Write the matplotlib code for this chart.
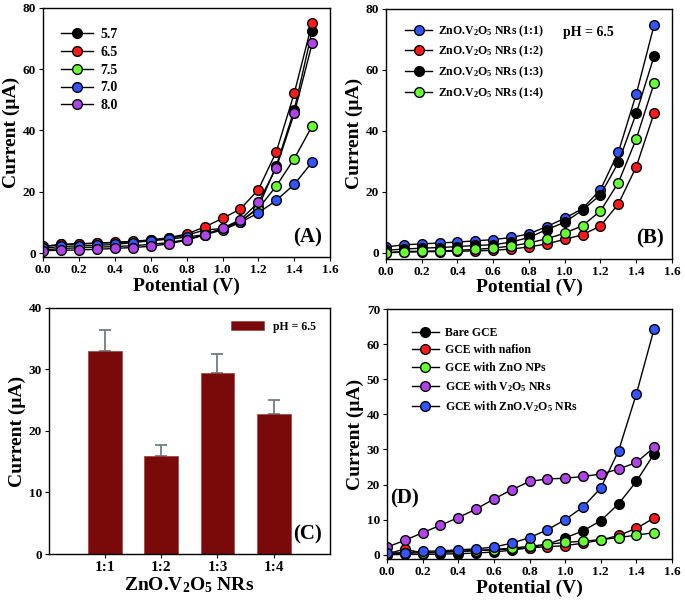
import numpy as np
import matplotlib
matplotlib.use("Agg")
import matplotlib.pyplot as plt

plt.rcParams['font.family'] = ['Liberation Serif', 'DejaVu Serif']
plt.rcParams['font.weight'] = 'bold'
plt.rcParams['mathtext.fontset'] = 'custom'
plt.rcParams['mathtext.rm'] = 'Liberation Serif:bold'
plt.rcParams['mathtext.default'] = 'rm'

potential = [0.0, 0.1, 0.2, 0.3, 0.4, 0.5, 0.6, 0.7, 0.8, 0.9, 1.0, 1.1, 1.2, 1.3, 1.4, 1.5]

# (A) effect of pH
ph_labels = ["5.7", "6.5", "7.5", "7.0", "8.0"]
ph_57 = [2.0, 2.8, 3.0, 3.2, 3.4, 3.7, 4.2, 4.8, 5.8, 7.5, 8.0, 10.0, 15.0, 28.5, 46.8, 72.6]
ph_65 = [2.2, 2.8, 3.0, 3.2, 3.5, 3.8, 4.3, 5.0, 6.2, 8.5, 11.3, 14.4, 20.7, 33.1, 52.2, 75.2]
ph_75 = [1.0, 1.5, 1.7, 1.9, 2.1, 2.4, 2.8, 3.4, 4.4, 6.0, 8.0, 10.5, 14.5, 21.9, 30.8, 41.5]
ph_70 = [1.5, 2.2, 2.3, 2.5, 2.8, 3.4, 4.0, 4.5, 5.2, 6.0, 7.5, 10.0, 13.1, 17.2, 22.4, 29.7]
ph_80 = [0.8, 0.9, 1.0, 1.2, 1.5, 1.8, 2.2, 3.0, 4.2, 5.9, 8.1, 10.9, 16.5, 27.9, 45.6, 68.5]

# (B) composition ratio
ratio_labels = ["ZnO.V$_2$O$_5$ NRs (1:1)", "ZnO.V$_2$O$_5$ NRs (1:2)",
                "ZnO.V$_2$O$_5$ NRs (1:3)", "ZnO.V$_2$O$_5$ NRs (1:4)"]
r_11 = [1.9, 2.6, 2.9, 3.2, 3.5, 3.9, 4.3, 5.0, 6.2, 8.6, 11.3, 14.5, 20.7, 33.0, 52.0, 74.7]
r_12 = [0.0, 0.2, 0.3, 0.4, 0.5, 0.6, 0.8, 1.2, 1.9, 2.9, 4.4, 5.9, 8.8, 16.0, 28.2, 45.8]
r_13 = [0.8, 1.2, 1.5, 1.7, 2.0, 2.4, 2.6, 3.5, 5.0, 7.6, 10.0, 14.0, 19.0, 29.6, 45.7, 64.5]
r_14 = [0.0, 0.4, 0.5, 0.6, 0.8, 1.1, 1.5, 2.2, 3.2, 4.6, 6.4, 8.9, 13.7, 23.0, 37.3, 55.6]

# (C) bar chart at 1.3 V
bar_cats = ["1:1", "1:2", "1:3", "1:4"]
bar_vals = [33.0, 16.0, 29.5, 22.8]
bar_err = [3.4, 1.7, 3.0, 2.3]

# (D) electrode comparison
elec_labels = ["Bare GCE", "GCE with nafion", "GCE with ZnO NPs",
               "GCE with V$_2$O$_5$ NRs", "GCE with ZnO.V$_2$O$_5$ NRs"]
bare = [0.0, 0.1, 0.1, 0.2, 0.3, 0.5, 0.8, 1.3, 2.0, 3.0, 4.8, 6.8, 9.7, 14.5, 20.9, 28.8]
nafion = [0.3, 1.6, 0.5, 0.7, 0.9, 1.2, 1.4, 1.7, 2.0, 2.3, 2.6, 3.3, 4.2, 5.5, 7.5, 10.5]
zno = [0.2, 0.4, 0.6, 0.8, 1.0, 1.2, 1.5, 1.9, 2.4, 3.0, 3.5, 3.9, 4.3, 4.9, 5.6, 6.3]
v2o5 = [2.2, 4.1, 6.3, 8.4, 10.6, 13.0, 15.9, 18.5, 20.9, 21.6, 21.8, 22.3, 23.0, 24.4, 26.3, 30.6]
znov = [0.5, 0.6, 1.0, 1.1, 1.4, 1.7, 2.2, 3.3, 4.9, 7.1, 10.0, 13.6, 19.0, 29.6, 45.8, 64.4]

BLACK = "#000000"
RED = "#ff1a1a"
GREEN = "#66ff33"
BLUE = "#3355ff"
PURPLE = "#b044e8"
BAR = "#7a0a0a"


def style_axes(ax, xlabel, ylabel):
    ax.set_xlabel(xlabel, fontsize=14, fontweight='bold', labelpad=1)
    ax.set_ylabel(ylabel, fontsize=14, fontweight='bold', labelpad=2)
    ax.tick_params(direction='out', length=3, width=0.8, labelsize=9.5,
                   top=False, right=False, pad=2)
    for lab in ax.get_xticklabels() + ax.get_yticklabels():
        lab.set_fontweight('bold')
    for sp in ax.spines.values():
        sp.set_linewidth(1.0)


def line_panel(ax, series, labels, colors):
    for y, lab, c in zip(series, labels, colors):
        ax.plot(potential, y, '-o', color='black', lw=1.0, mfc=c, mec='black',
                mew=1.0, ms=7, label=lab)
    ax.set_xlim(0, 1.6)
    ax.set_xticks(np.arange(0, 1.61, 0.2))
    ax.set_xticklabels([f"{t:.1f}" for t in np.arange(0, 1.61, 0.2)])


fig = plt.figure(figsize=(6.85, 6.09), dpi=100)

# Panel A
axA = fig.add_axes([0.063, 0.578, 0.419, 0.409])
line_panel(axA, [ph_57, ph_65, ph_75, ph_70, ph_80], ph_labels,
           [BLACK, RED, GREEN, BLUE, PURPLE])
axA.set_ylim(-1.3, 80)
axA.set_yticks([0, 20, 40, 60, 80])
style_axes(axA, "Potential (V)", "Current (\u03bcA)")
axA.legend(loc='upper left', bbox_to_anchor=(0.02, 0.97), frameon=False,
           prop={'family': 'Liberation Serif', 'weight': 'bold', 'size': 10},
           handlelength=2.3, labelspacing=0.35, handletextpad=0.5)
axA.text(0.97, 0.04, "(A)", transform=axA.transAxes, ha='right', va='bottom',
         fontsize=15, fontweight='bold')

# Panel B
axB = fig.add_axes([0.5635, 0.575, 0.4175, 0.4105])
line_panel(axB, [r_11, r_12, r_13, r_14], ratio_labels,
           [BLUE, RED, BLACK, GREEN])
axB.set_ylim(-2, 80)
axB.set_yticks([0, 20, 40, 60, 80])
style_axes(axB, "Potential (V)", "Current (\u03bcA)")
axB.legend(loc='upper left', bbox_to_anchor=(0.03, 0.985), frameon=False,
           prop={'family': 'Liberation Serif', 'weight': 'bold', 'size': 8.5},
           handlelength=2.3, labelspacing=0.45, handletextpad=0.5)
axB.text(0.62, 0.905, "pH = 6.5", transform=axB.transAxes, ha='left', va='center',
         fontsize=10, fontweight='bold')
axB.text(0.97, 0.04, "(B)", transform=axB.transAxes, ha='right', va='bottom',
         fontsize=15, fontweight='bold')

# Panel C
axC = fig.add_axes([0.0715, 0.0903, 0.41, 0.404])
xpos = np.arange(1, len(bar_cats) + 1)
axC.bar(xpos, bar_vals, width=0.6, color=BAR, edgecolor='#9a4040', lw=0.5,
        label="pH = 6.5", zorder=2)
axC.errorbar(xpos, bar_vals, yerr=[np.zeros(len(bar_err)), bar_err], fmt='none',
             ecolor='#6f7f80', elinewidth=1.3, capsize=4, capthick=1.3, zorder=1)
axC.set_xlim(0, 5)
axC.set_ylim(0, 40)
axC.set_xticks(xpos)
axC.set_xticklabels(bar_cats)
axC.set_yticks([0, 10, 20, 30, 40])
style_axes(axC, "ZnO.V$_2$O$_5$ NRs", "Current (\u03bcA)")
axC.tick_params(axis='x', labelsize=11)
axC.legend(loc='upper right', bbox_to_anchor=(0.99, 0.99), frameon=False,
           prop={'family': 'Liberation Serif', 'weight': 'bold', 'size': 8.5},
           handlelength=2.8, handleheight=0.8, handletextpad=0.8)
axC.text(0.97, 0.04, "(C)", transform=axC.transAxes, ha='right', va='bottom',
         fontsize=15, fontweight='bold')

# Panel D
axD = fig.add_axes([0.565, 0.0821, 0.416, 0.4105])
line_panel(axD, [bare, nafion, zno, v2o5, znov], elec_labels,
           [BLACK, RED, GREEN, PURPLE, BLUE])
axD.set_ylim(-1.2, 70)
axD.set_yticks(range(0, 71, 10))
style_axes(axD, "Potential (V)", "Current (\u03bcA)")
axD.legend(loc='upper left', bbox_to_anchor=(0.05, 0.97), frameon=False,
           prop={'family': 'Liberation Serif', 'weight': 'bold', 'size': 8.5},
           handlelength=2.3, labelspacing=0.45, handletextpad=0.5)
axD.text(0.01, 16, "(D)", transform=axD.get_yaxis_transform(), ha='left',
         va='center', fontsize=15, fontweight='bold')

fig.savefig("out.png", dpi=100)
